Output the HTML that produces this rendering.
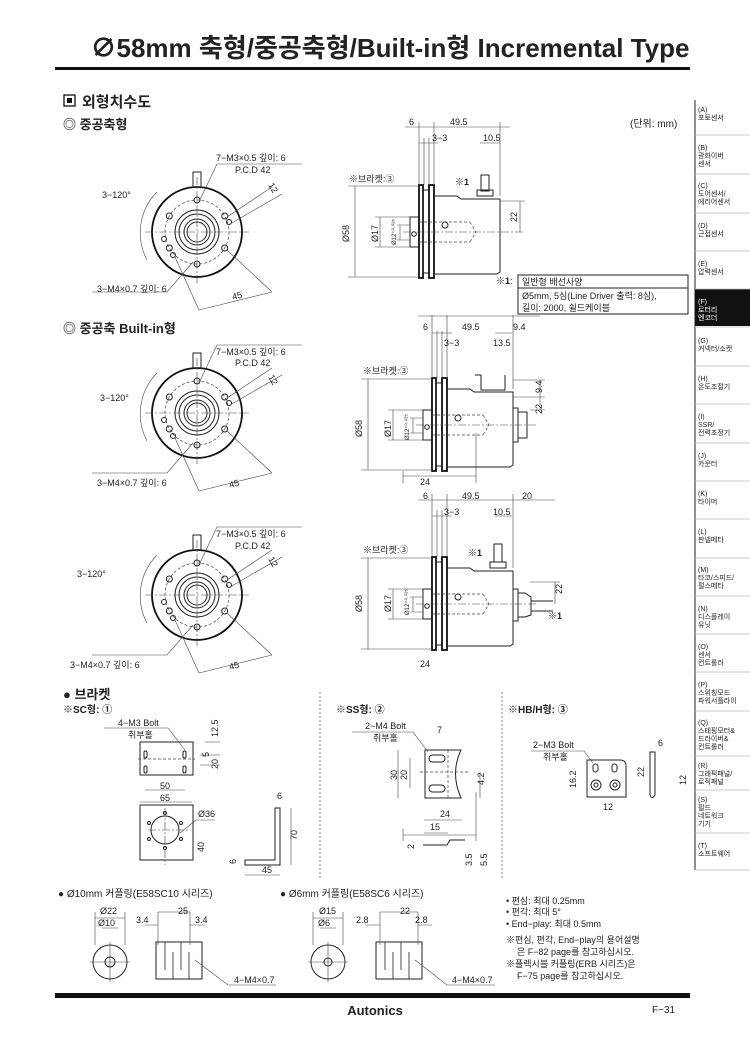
<!DOCTYPE html>
<html><head><meta charset="utf-8"><style>
html,body{margin:0;padding:0;background:#fff}
svg{display:block}
text{font-family:"Liberation Sans","Noto Sans CJK KR",sans-serif;fill:#222}
.s{font-size:9px}
.m{font-size:10px}
.b{font-weight:bold}
.ln{stroke:#222;fill:none;stroke-width:1}
.th{stroke:#111;fill:none;stroke-width:1.8}
.dm{stroke:#444;fill:none;stroke-width:.6}
.dd{stroke:#444;fill:none;stroke-width:.6;stroke-dasharray:8 2 2 2}
.ds{stroke:#444;fill:none;stroke-width:.7;stroke-dasharray:3 2}
.sb{font-size:7px}
</style></head><body>
<svg width="750" height="1053" viewBox="0 0 750 1053" xmlns="http://www.w3.org/2000/svg">
<defs>
<g id="fv">
 <circle r="45" class="th"/>
 <circle r="32" class="ds"/>
 <circle r="22" class="ln" stroke-width="1.4"/>
 <circle r="18" class="ln"/>
 <circle r="13" class="ln" stroke-width="1.4"/>
 <circle r="10" class="ln"/>
 <path d="M-52 0H52M0 -55V52" class="dd"/>
 <rect x="-4" y="-60" width="8" height="15" class="ln" fill="#fff"/>
 <g class="ln" fill="#fff">
 <circle cx="0" cy="-32" r="3"/><circle cx="27.7" cy="-16" r="3"/><circle cx="27.7" cy="16" r="3"/><circle cx="0" cy="32" r="3"/><circle cx="-27.7" cy="16" r="3"/><circle cx="-27.7" cy="-16" r="3"/>
 <circle cx="32" cy="-10" r="2.5"/><circle cx="-33" cy="7" r="2.5"/><circle cx="-24" cy="23" r="2.5"/>
 </g>
 <path d="M-40 -40 A58 58 0 0 0 -50 28" class="dm"/>
 <path d="M2 -30 L20 -68 H105" class="dm"/>
 <path d="M-4 30 L-30 60 H-105" class="dm"/>
 <path d="M30 -15 L75 -45 M33 -8 L85 -38 M30 18 L75 60 M-22 25 L2 78 M2 78 L75 60" class="dm"/>
</g>
<g id="sv">
 <rect x="410" y="217" width="9" height="30" class="ln"/>
 <circle cx="414" cy="234" r="2.3" class="ln"/>
 <rect x="419" y="185" width="4" height="93" class="th"/>
 <rect x="423" y="190" width="6" height="83" class="ln"/>
 <rect x="429" y="185" width="5" height="93" class="th"/>
 <path d="M434 196 H457 L461 199 H500 V272 L497 274 H434" class="ln" stroke-width="1.2"/>
 <path d="M419 222 H470 M419 242 H470 M470 222 L476 232 L470 242" class="ds"/>
 <circle cx="445" cy="225" r="3" class="ln"/>
 <path d="M403 232 H525" class="dd"/>
 <path d="M419 185 V122 M434 185 V122 M500 196 V122 M424 185 V138 M429 185 V138" class="dm"/>
 <path d="M348 186 H419 M348 277 H419 M355 186 V277 M375 217 H410 M380 217 V247 M375 247 H410 M397 225 H410 M400 225 V240 M397 240 H410" class="dm"/>
</g>
</defs>

<text x="390" y="57" text-anchor="middle" font-size="26" font-weight="bold">∅58mm 축형/중공축형/Built-in형 Incremental Type</text>
<rect x="55" y="67" width="635" height="3" fill="#111"/>

<g>
<path d="M695 100 V870" class="ln" stroke="#888"/>
<rect x="695" y="289" width="55" height="37" fill="#111"/>
<text x="698" y="112" class="sb">(A)</text><text x="698" y="120" class="sb">포토센서</text>
<text x="698" y="150" class="sb">(B)</text><text x="698" y="158" class="sb">광화이버</text><text x="698" y="166" class="sb">센서</text>
<text x="698" y="188" class="sb">(C)</text><text x="698" y="196" class="sb">도어센서/</text><text x="698" y="204" class="sb">에리어센서</text>
<text x="698" y="228" class="sb">(D)</text><text x="698" y="236" class="sb">근접센서</text>
<text x="698" y="266" class="sb">(E)</text><text x="698" y="274" class="sb">압력센서</text>
<text x="698" y="304" class="sb" style="fill:#fff">(F)</text><text x="698" y="312" class="sb" style="fill:#fff">로터리</text><text x="698" y="320" class="sb" style="fill:#fff">엔코더</text>
<text x="698" y="343" class="sb">(G)</text><text x="698" y="351" class="sb">커넥터/소켓</text>
<text x="698" y="381" class="sb">(H)</text><text x="698" y="389" class="sb">온도조절기</text>
<text x="698" y="419" class="sb">(I)</text><text x="698" y="427" class="sb">SSR/</text><text x="698" y="435" class="sb">전력조정기</text>
<text x="698" y="458" class="sb">(J)</text><text x="698" y="466" class="sb">카운터</text>
<text x="698" y="496" class="sb">(K)</text><text x="698" y="504" class="sb">타이머</text>
<text x="698" y="534" class="sb">(L)</text><text x="698" y="542" class="sb">판넬메타</text>
<text x="698" y="572" class="sb">(M)</text><text x="698" y="580" class="sb">타코/스피드/</text><text x="698" y="588" class="sb">펄스메타</text>
<text x="698" y="611" class="sb">(N)</text><text x="698" y="619" class="sb">디스플레이</text><text x="698" y="627" class="sb">유닛</text>
<text x="698" y="649" class="sb">(O)</text><text x="698" y="657" class="sb">센서</text><text x="698" y="665" class="sb">컨트롤러</text>
<text x="698" y="687" class="sb">(P)</text><text x="698" y="695" class="sb">스위칭모드</text><text x="698" y="703" class="sb">파워서플라이</text>
<text x="698" y="725" class="sb">(Q)</text><text x="698" y="733" class="sb">스테핑모터&amp;</text><text x="698" y="741" class="sb">드라이버&amp;</text><text x="698" y="749" class="sb">컨트롤러</text>
<text x="698" y="768" class="sb">(R)</text><text x="698" y="776" class="sb">그래픽패널/</text><text x="698" y="784" class="sb">로직패널</text>
<text x="698" y="802" class="sb">(S)</text><text x="698" y="810" class="sb">필드</text><text x="698" y="818" class="sb">네트워크</text><text x="698" y="826" class="sb">기기</text>
<text x="698" y="848" class="sb">(T)</text><text x="698" y="856" class="sb">소프트웨어</text>
<g stroke="#bbb" stroke-width=".8">
<path d="M695 135H750M695 174H750M695 213H750M695 251H750M695 289H750M695 327H750M695 366H750M695 404H750M695 443H750M695 481H750M695 519H750M695 558H750M695 596H750M695 634H750M695 672H750M695 711H750M695 756H750M695 790H750M695 833H750M695 870H750"/>
</g>
</g>

<rect x="64" y="95" width="11" height="11" fill="none" stroke="#111" stroke-width="1.3"/><rect x="67" y="98" width="5" height="5" fill="#111"/>
<text x="82" y="107" font-size="15" class="b">외형치수도</text>
<text x="63" y="129" font-size="13" class="b">◎ 중공축형</text>
<text x="630" y="127" class="m">(단위: mm)</text>

<use href="#fv" x="197" y="232"/>
<text x="216" y="161" class="s">7−M3×0.5 깊이: 6</text>
<text x="235" y="173" class="s">P.C.D 42</text>
<text x="102" y="198" class="s">3−120°</text>
<text x="97" y="292" class="s">3−M4×0.7 깊이: 6</text>
<text x="233" y="300" class="s" transform="rotate(-15 233 300)">45</text>
<text x="268" y="185" class="s" transform="rotate(60 268 185)">12</text>

<use href="#sv"/>
<rect x="481" y="175" width="8" height="16" class="ln"/><rect x="477" y="190" width="16" height="6" class="ln"/>
<path d="M405 127 H510 M419 143 H438 M480 143 H500 M500 201 H525 M520 201 V232" class="dm"/>
<text x="409" y="125" class="s">6</text><text x="450" y="125" class="s">49.5</text>
<text x="432" y="141" class="s">3−3</text><text x="483" y="141" class="s">10.5</text>
<text x="349" y="182" class="s">※브라켓:③</text>
<text x="455" y="185" class="s b">※1</text>
<text x="349" y="242" class="s" transform="rotate(-90 349 242)">Ø58</text>
<text x="378" y="242" class="s" transform="rotate(-90 378 242)">Ø17</text>
<text x="396" y="245" font-size="6" transform="rotate(-90 396 245)">Ø12⁺⁰·⁰²⁵</text>
<text x="517" y="222" class="s" transform="rotate(-90 517 222)">22</text>
<text x="496" y="284" class="s"><tspan class="b">※1</tspan>:</text>
<rect x="518" y="275" width="170" height="39" class="ln" stroke-width=".8"/>
<path d="M518 288 H688" class="ln" stroke-width=".6"/>
<text x="522" y="285" class="s">일반형 배선사양</text>
<text x="522" y="299" class="s">Ø5mm, 5심(Line Driver 출력: 8심),</text>
<text x="522" y="311" class="s">길이: 2000, 쉴드케이블</text>

<text x="63" y="333" font-size="13" class="b">◎ 중공축 Built-in형</text>
<use href="#fv" x="197" y="413"/>
<text x="216" y="355" class="s">7−M3×0.5 깊이: 6</text>
<text x="235" y="366" class="s">P.C.D 42</text>
<text x="100" y="401" class="s">3−120°</text>
<text x="97" y="486" class="s">3−M4×0.7 깊이: 6</text>
<text x="230" y="488" class="s" transform="rotate(-15 230 488)">45</text>
<text x="268" y="377" class="s" transform="rotate(60 268 377)">12</text>

<g transform="translate(13,193)">
<use href="#sv"/>
<path d="M462 182 H468 V197 H492 V182" class="ln"/>
<rect x="500" y="215" width="5" height="34" class="ln"/><rect x="505" y="219" width="9" height="26" class="ln"/>
<path d="M390 283 H463 M390 278 V290 M463 240 V290" class="dm"/>
</g>
<path d="M418 316 H540 M432 333 H452 M495 333 H512 M513 380 H545 M513 397 H545 M530 410 H545 M540 380 V410" class="dm"/>
<text x="423" y="330" class="s">6</text><text x="462" y="330" class="s">49.5</text><text x="513" y="330" class="s">9.4</text>
<text x="444" y="346" class="s">3−3</text><text x="493" y="346" class="s">13.5</text>
<text x="363" y="374" class="s">※브라켓:③</text>
<text x="362" y="437" class="s" transform="rotate(-90 362 437)">Ø58</text>
<text x="391" y="437" class="s" transform="rotate(-90 391 437)">Ø17</text>
<text x="409" y="440" font-size="6" transform="rotate(-90 409 440)">Ø12⁺⁰·⁰²⁵</text>
<text x="542" y="393" class="s" transform="rotate(-90 542 393)">9.4</text>
<text x="542" y="414" class="s" transform="rotate(-90 542 414)">22</text>
<text x="420" y="485" class="s">24</text>

<use href="#fv" x="197" y="595"/>
<text x="216" y="537" class="s">7−M3×0.5 깊이: 6</text>
<text x="235" y="549" class="s">P.C.D 42</text>
<text x="77" y="577" class="s">3−120°</text>
<text x="70" y="668" class="s">3−M4×0.7 깊이: 6</text>
<text x="230" y="670" class="s" transform="rotate(-15 230 670)">45</text>
<text x="268" y="559" class="s" transform="rotate(60 268 559)">12</text>

<g transform="translate(13,372)">
<use href="#sv"/>
<rect x="481" y="172" width="8" height="18" class="ln"/><rect x="477" y="190" width="16" height="6" class="ln"/>
<rect x="500" y="217" width="5" height="32" class="ln"/><path d="M505 221 H512 L518 225 V243 L512 245 H505 Z" class="ln"/>
<path d="M518 229 H540 M518 239 H540" class="ln"/>
<path d="M390 463 H463 M390 457 V469 M463 420 V469" class="dm"/>
</g>
<path d="M418 500 H555 M432 516 H452 M495 516 H512 M530 582 H560 M555 582 V604" class="dm"/>
<text x="423" y="499" class="s">6</text><text x="462" y="499" class="s">49.5</text><text x="522" y="499" class="s">20</text>
<text x="444" y="515" class="s">3−3</text><text x="493" y="515" class="s">10.5</text>
<text x="363" y="553" class="s">※브라켓:③</text>
<text x="468" y="556" class="s b">※1</text>
<text x="548" y="619" class="s b">※1</text>
<text x="362" y="612" class="s" transform="rotate(-90 362 612)">Ø58</text>
<text x="391" y="612" class="s" transform="rotate(-90 391 612)">Ø17</text>
<text x="409" y="615" font-size="6" transform="rotate(-90 409 615)">Ø12⁺⁰·⁰²⁵</text>
<text x="562" y="594" class="s" transform="rotate(-90 562 594)">22</text>
<text x="420" y="667" class="s">24</text>

<text x="63" y="699" font-size="13" class="b">● 브라켓</text>
<text x="63" y="713" class="m b">※SC형: ①</text>
<text x="336" y="713" class="m b">※SS형: ②</text>
<text x="508" y="713" class="m b">※HB/H형: ③</text>
<path d="M320 692 V878 M502 692 V878" stroke="#666" stroke-width=".8" stroke-dasharray="2 2"/>

<text x="118" y="726" class="s">4−M3 Bolt</text><text x="128" y="738" class="s">취부홀</text>
<path d="M104 728 H168 L185 750" class="dm"/>
<rect x="140" y="742" width="53" height="33" class="ln"/>
<g class="ln"><rect x="144" y="751" width="3" height="7" rx="1.5"/><rect x="183" y="751" width="3" height="7" rx="1.5"/><rect x="144" y="766" width="3" height="7" rx="1.5"/><rect x="183" y="766" width="3" height="7" rx="1.5"/></g>
<path d="M138 759 H195" class="ds"/>
<path d="M145 790 H185 M140 802 H192 M205 742 H220 M200 755 H220 M200 765 H220" class="dm"/>
<text x="160" y="789" class="s">50</text><text x="160" y="801" class="s">65</text>
<text x="218" y="737" class="s" transform="rotate(-90 218 737)">12.5</text>
<text x="209" y="757" class="s" transform="rotate(-90 209 757)">5</text>
<text x="218" y="769" class="s" transform="rotate(-90 218 769)">20</text>
<rect x="140" y="805" width="53" height="55" class="ln"/>
<circle cx="165" cy="830" r="14" class="ln"/>
<g class="ln"><circle cx="165" cy="813" r="1.5"/><circle cx="165" cy="848" r="1.5"/><circle cx="149" cy="823" r="1.5"/><circle cx="181" cy="823" r="1.5"/><circle cx="149" cy="839" r="1.5"/><circle cx="181" cy="839" r="1.5"/></g>
<path d="M165 808 V865 M148 830 H190" class="dd"/>
<text x="198" y="817" class="s">Ø36</text><path d="M196 820 H215 M196 820 L180 833" class="dm"/>
<text x="204" y="852" class="s" transform="rotate(-90 204 852)">40</text>
<path d="M275 808 H280 V865 H245 V860 H275 Z" class="ln" stroke-width="1.3"/>
<text x="277" y="799" class="s">6</text>
<text x="297" y="840" class="s" transform="rotate(-90 297 840)">70</text>
<text x="236" y="864" class="s" transform="rotate(-90 236 864)">6</text>
<text x="262" y="873" class="s">45</text>
<path d="M291 808 V865 M245 875 H280" class="dm"/>

<text x="365" y="729" class="s">2−M4 Bolt</text><text x="373" y="741" class="s">취부홀</text>
<path d="M352 732 H413 L428 752" class="dm"/>
<path d="M425 750 H461 Q450 773 461 798 H425 Z" class="ln"/>
<g class="ln"><rect x="429" y="755" width="16" height="7" rx="3.5"/><rect x="429" y="785" width="16" height="7" rx="3.5"/></g>
<path d="M448 750 V798 M420 772 H470" class="ds"/>
<text x="437" y="733" class="s">7</text>
<text x="397" y="780" class="s" transform="rotate(-90 397 780)">30</text>
<text x="407" y="780" class="s" transform="rotate(-90 407 780)">20</text>
<text x="484" y="785" class="s" transform="rotate(-90 484 785)">4.2</text>
<path d="M398 750 V798 M410 758 V788 M480 772 V798" class="dm"/>
<text x="440" y="817" class="s">24</text><text x="430" y="830" class="s">15</text>
<path d="M424 820 H462 M424 833 H448" class="dm"/>
<path d="M423 845 H447 L450 840 H465" class="ln" stroke-width="1.3"/>
<text x="414" y="849" class="s" transform="rotate(-90 414 849)">2</text>
<text x="472" y="866" class="s" transform="rotate(-90 472 866)">3.5</text>
<text x="487" y="866" class="s" transform="rotate(-90 487 866)">5.5</text>

<text x="533" y="748" class="s">2−M3 Bolt</text><text x="543" y="760" class="s">취부홀</text>
<path d="M531 751 H584 L593 763" class="dm"/>
<path d="M587 760 H620 Q626 760 626 766 V797 H587 Z" class="ln"/>
<g class="ln"><rect x="593" y="764" width="5" height="8" rx="2.5"/><rect x="612" y="764" width="5" height="8" rx="2.5"/><circle cx="596" cy="785" r="5"/><circle cx="596" cy="785" r="2"/><circle cx="615" cy="785" r="5"/><circle cx="615" cy="785" r="2"/></g>
<text x="576" y="788" class="s" transform="rotate(-90 576 788)">16.2</text>
<text x="603" y="810" class="s">12</text>
<path d="M650 752 H655 V795 Q652 800 650 795 Z" class="ln" stroke-width="1.2"/>
<text x="658" y="746" class="s">6</text>
<text x="644" y="777" class="s" transform="rotate(-90 644 777)">22</text>
<text x="686" y="785" class="s" transform="rotate(-90 686 785)">12</text>

<text x="58" y="897" class="m">● Ø10mm 커플링(E58SC10 시리즈)</text>
<text x="280" y="897" class="m">● Ø6mm 커플링(E58SC6 시리즈)</text>
<g class="ln">
<circle cx="110" cy="962" r="17"/><circle cx="110" cy="962" r="5"/><path d="M90 962 H130 M110 942 V982" class="dm"/>
<path d="M95 918 H125 M102 928 H118 M95 912 V945 M125 912 V945" class="dm"/>
<rect x="156" y="942" width="46" height="37"/>
<path d="M165 942 V970 M173 952 V979 M181 942 V970 M189 952 V979" stroke-width=".8"/>
<path d="M158 912 H190 M145 925 H158 M190 925 H205 M158 912 V945 M190 912 V945" class="dm"/>
<circle cx="328" cy="962" r="17"/><circle cx="328" cy="962" r="4"/><path d="M308 962 H348 M328 942 V982" class="dm"/>
<path d="M313 918 H343 M320 928 H336 M313 912 V945 M343 912 V945" class="dm"/>
<rect x="376" y="942" width="46" height="37"/>
<path d="M385 942 V970 M393 952 V979 M401 942 V970 M409 952 V979" stroke-width=".8"/>
<path d="M380 912 H418 M365 925 H380 M418 925 H432 M380 912 V945 M418 912 V945" class="dm"/>
<path d="M195 960 L228 985 H276 M415 960 L447 985 H495" class="dm"/>
</g>
<text x="100" y="914" class="s">Ø22</text><text x="98" y="926" class="s">Ø10</text>
<text x="178" y="914" class="s">25</text><text x="136" y="923" class="s">3.4</text><text x="195" y="923" class="s">3.4</text>
<text x="234" y="983" class="s">4−M4×0.7</text>
<text x="319" y="914" class="s">Ø15</text><text x="318" y="926" class="s">Ø6</text>
<text x="400" y="914" class="s">22</text><text x="356" y="923" class="s">2.8</text><text x="415" y="923" class="s">2.8</text>
<text x="452" y="983" class="s">4−M4×0.7</text>
<text x="506" y="904" class="s">• 편심: 최대 0.25mm</text>
<text x="506" y="915" class="s">• 편각: 최대 5°</text>
<text x="506" y="927" class="s">• End−play: 최대 0.5mm</text>
<text x="506" y="943" class="s">※편심, 편각, End−play의 용어설명</text>
<text x="517" y="955" class="s">은 F−82 page를 참고하십시오.</text>
<text x="506" y="967" class="s">※플렉시블 커플링(ERB 시리즈)은</text>
<text x="517" y="979" class="s">F−75 page를 참고하십시오.</text>

<rect x="55" y="993" width="635" height="5" fill="#111"/>
<text x="375" y="1015" text-anchor="middle" font-size="13" font-weight="bold">Autonics</text>
<text x="652" y="1013" class="m">F−31</text>
</svg>
</body></html>
